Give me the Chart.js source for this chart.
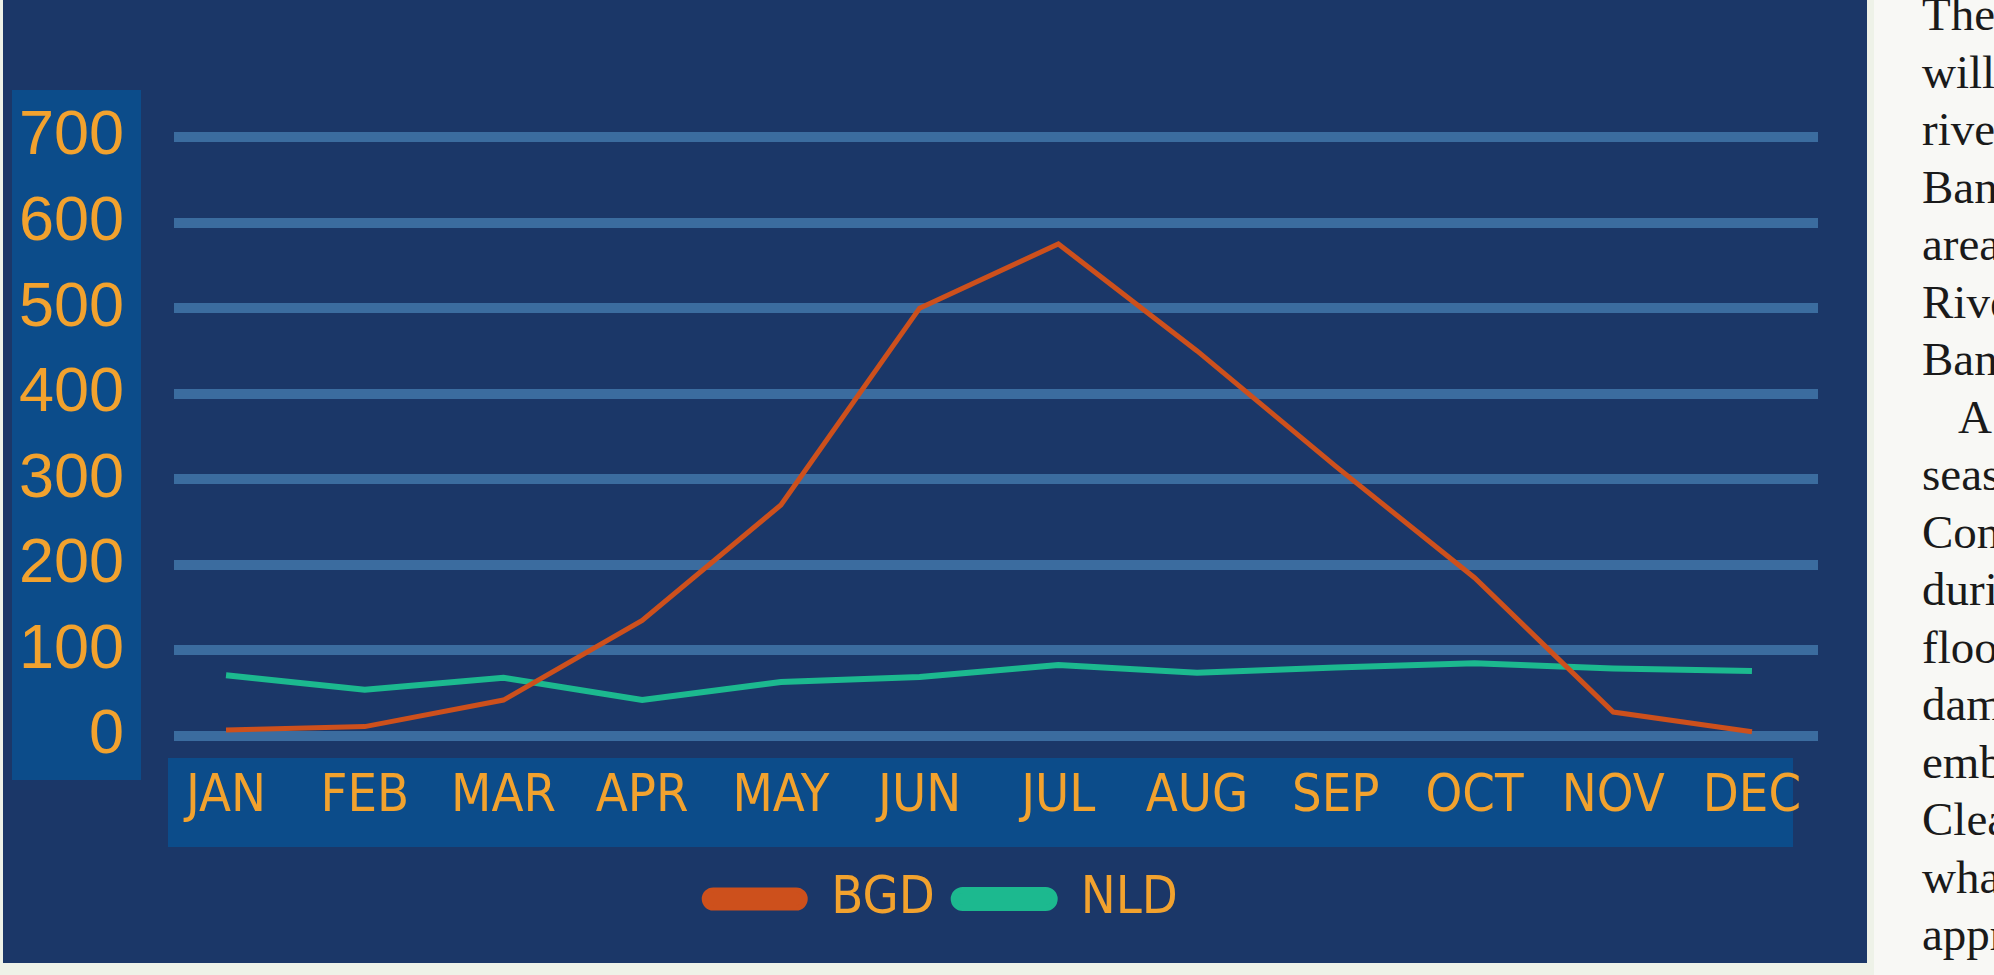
<!DOCTYPE html>
<html>
<head>
<meta charset="utf-8">
<script src="https://cdn.jsdelivr.net/npm/chart.js@4.4.1/dist/chart.umd.min.js"></script>
<style>
    html, body { margin: 0; padding: 0; width: 1994px; height: 975px; overflow: hidden; background: #eef2e8; }
    #panel { position: absolute; left: 3px; top: 0; width: 1864px; height: 963px; background: #1b3768; }
    #floodChart { position: absolute; left: 0; top: 0; }
    #page {
        position: absolute; left: 1874px; top: -14px; width: 120px; height: 1000px;
        background: #f8f8f5; overflow: hidden; white-space: nowrap;
        font-family: 'Liberation Serif', 'DejaVu Serif', serif; font-size: 47px; line-height: 57.5px; color: #1a1a1a;
    }
    #page div { padding-left: 48px; }
    #page .indent { padding-left: 84px; }
</style>
</head>
<body>
<div id="panel"></div>
<canvas id="floodChart" width="1867" height="963"></canvas>
<div id="page">
    <div>The</div><div>will</div><div>river</div><div>Bang</div><div>areas</div><div>River</div><div>Bang</div>
    <div class="indent">A</div><div>season</div><div>Con</div><div>duri</div><div>flood</div><div>dama</div>
    <div>emba</div><div>Clea</div><div>what</div><div>appr</div>
</div>

<script>
/* ==============================
   DATA
============================== */
const months = ['JAN', 'FEB', 'MAR', 'APR', 'MAY', 'JUN', 'JUL', 'AUG', 'SEP', 'OCT', 'NOV', 'DEC'];
const bgdValues = [7, 11, 42, 135, 270, 500, 575, 450, 315, 185, 28, 5];
const nldValues = [71, 54, 68, 42, 63, 69, 83, 74, 80, 85, 79, 76];
const yTicks = [0, 100, 200, 300, 400, 500, 600, 700];

const ORANGE = '#f2a22e';
const narrowFont = "'Liberation Sans Narrow', 'DejaVu Sans Condensed', 'Roboto Condensed', 'Liberation Sans', sans-serif";

/* ==============================
   LABEL BACKGROUND BOXES
============================== */
const labelBoxes = {
    id: 'labelBoxes',
    afterUpdate(chart) {
        // legend sits a little right of the canvas centre in the original
        if (chart.legend) {
            chart.legend.left += 32;
            chart.legend.right += 32;
        }
    },
    beforeDraw(chart) {
        const ctx = chart.ctx;
        const area = chart.chartArea;
        ctx.save();
        ctx.fillStyle = '#0c4c8a';
        // box behind y tick labels
        ctx.fillRect(12, area.top - 47, area.left - 45, area.bottom - area.top + 91);
        // band behind month labels
        ctx.fillRect(area.left - 6, area.bottom + 22, area.right - area.left - 19, 89);
        ctx.restore();
    }
};

function toPoints(values) {
    return values.map((v, i) => ({ x: i, y: v }));
}

/* ==============================
   LINE CHART
============================== */
function renderFloodChart() {
    const ctx = document.getElementById('floodChart');
    if (!ctx) return;

    new Chart(ctx.getContext('2d'), {
        type: 'line',
        data: {
            datasets: [
                {
                    label: 'BGD',
                    data: toPoints(bgdValues),
                    borderColor: '#cd501c',
                    backgroundColor: '#cd501c',
                    borderWidth: 5,
                    pointRadius: 0,
                    tension: 0
                },
                {
                    label: 'NLD',
                    data: toPoints(nldValues),
                    borderColor: '#1cb98f',
                    backgroundColor: '#1cb98f',
                    borderWidth: 6,
                    pointRadius: 0,
                    tension: 0
                }
            ]
        },
        options: {
            responsive: false,
            animation: false,
            layout: { padding: { top: 137, left: 0, right: 49, bottom: 28 } },
            plugins: {
                tooltip: { enabled: false },
                legend: {
                    position: 'bottom',
                    labels: {
                        color: ORANGE,
                        font: { family: narrowFont, size: 52 },
                        boxWidth: 101,
                        boxHeight: 18,
                        useBorderRadius: true,
                        borderRadius: 9,
                        padding: 19
                    }
                }
            },
            scales: {
                x: {
                    type: 'linear',
                    min: -0.375,
                    max: 11.476,
                    afterBuildTicks: (scale) => { scale.ticks = months.map((m, i) => ({ value: i })); },
                    afterFit: (scale) => { scale.height = 118; },
                    grid: { display: false, drawTicks: false },
                    border: { display: false },
                    ticks: {
                        color: ORANGE,
                        font: { family: narrowFont, size: 52 },
                        padding: 30,
                        maxRotation: 0,
                        autoSkip: false,
                        callback: (v) => months[v]
                    }
                },
                y: {
                    min: 0,
                    max: 700,
                    afterBuildTicks: (scale) => { scale.ticks = yTicks.map(v => ({ value: v })); },
                    afterFit: (scale) => { scale.width = 174; },
                    grid: { color: '#3b6c9f', lineWidth: 10, drawTicks: false },
                    border: { display: false },
                    ticks: {
                        color: ORANGE,
                        font: { family: "'Liberation Sans', 'Open Sans', sans-serif", size: 63 },
                        padding: 50
                    }
                }
            }
        },
        plugins: [labelBoxes]
    });
}

document.addEventListener('DOMContentLoaded', renderFloodChart);
</script>
</body>
</html>
